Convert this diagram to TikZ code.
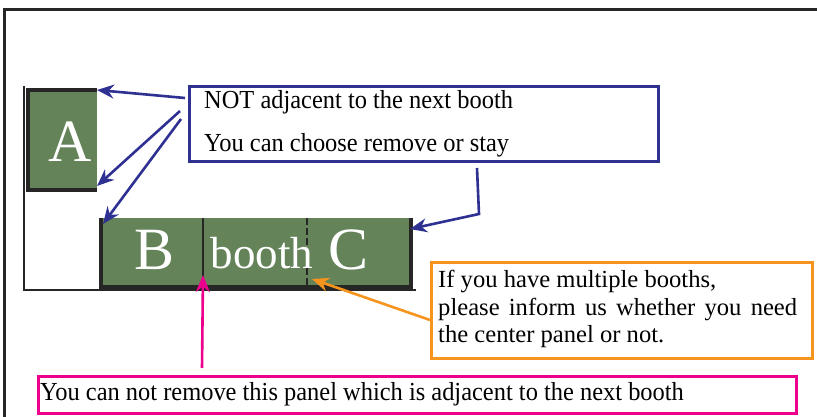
\documentclass[tikz,border=0pt]{standalone}
\usepackage{fontspec}
\setmainfont{Liberation Serif}
\usetikzlibrary{arrows.meta}
\definecolor{boothgreen}{HTML}{648359}
\definecolor{navy}{HTML}{2E3192}
\definecolor{orng}{HTML}{F7941D}
\definecolor{pnk}{HTML}{EC008C}
\tikzset{
  booth/.style={fill=boothgreen,draw=none},
  wall/.style={line width=3.2pt,draw=black!85},
  note/.style={draw,line width=2.6pt,fill=white},
  bluearrow/.style={navy,line width=2.6pt,-{Stealth[length=17pt,width=14pt]}},
  orangearrow/.style={orng,line width=2.6pt,-{Stealth[length=17pt,width=14pt]}},
  pinkarrow/.style={pnk,line width=2.6pt,-{Stealth[length=17pt,width=14pt]}},
  big/.style={text=white,font=\fontsize{60}{60}\selectfont,inner sep=0pt},
  mid/.style={text=white,font=\fontsize{45}{45}\selectfont,inner sep=0pt},
  lbl/.style={font=\fontsize{26}{30}\selectfont,inner sep=0pt,anchor=west,xscale=0.94},
  olbl/.style={font=\fontsize{24.6}{30}\selectfont,inner sep=0pt,anchor=west}
}
\begin{document}
\begin{tikzpicture}[x=1pt,y=-1pt]
\useasboundingbox (0,0) rectangle (817,417);
% outer frame
\draw[line width=3pt,black!85] (4,417) -- (4,10) -- (817,10);
% floor axes
\draw[line width=2.4pt,black!85] (24,86) -- (24,290) -- (416,290);
% booth A
\fill[booth] (28,90) rectangle (97,190);
\draw[wall] (97,90) -- (28,90) -- (28,190) -- (97,190);
\node[big] (A) at (70,142) {A};
% booth B-C
\fill[booth] (101,218) rectangle (411,287);
\draw[wall] (101,218) -- (101,287) -- (411,287) -- (411,218);
\draw[line width=2.2pt,black!85] (203,218) -- (203,287);
\draw[line width=2.2pt,black!85,dash pattern=on 7pt off 3pt] (307,218) -- (307,287);
\coordinate (Atop) at (97,90);
\coordinate (Abot) at (97,186);
\coordinate (Bcorner) at (103,224);
\coordinate (Cright) at (410,229);
\coordinate (divbot) at (312,279);
\coordinate (panelbot) at (203,275);
\node[big] (B) at (155,250) {B};
\node[mid] (booth) at (262,253) {booth};
\node[big] (C) at (349,250) {C};
% blue note
\node[note,draw=navy,minimum width=469pt,minimum height=75pt,anchor=north west,inner sep=0pt] (blue) at (188,85) {};
\node[lbl] (t1) at (204,102) {NOT adjacent to the next booth};
\node[lbl] (t2) at (204,145) {You can choose remove or stay};
\draw[bluearrow] (185,98) -- (Atop);
\draw[bluearrow] (180,111) -- (Abot);
\draw[bluearrow] (181,119) -- (Bcorner);
\coordinate (bend) at (479,214);
\draw[bluearrow] (477,168) -- (bend) -- (Cright);
% orange note
\node[note,draw=orng,minimum width=381pt,minimum height=96pt,anchor=north west,inner sep=0pt] (orange) at (430,261) {};
\node[olbl] (o1) at (438,281) {If you have multiple booths,};
\node[olbl] (o2) at (438,309) {\makebox[359pt][s]{please inform us whether you need}};
\node[olbl] (o3) at (438,337) {the center panel or not.};
\draw[orangearrow] (orange.west |- 0,320) -- (divbot);
% pink note
\node[note,draw=pnk,minimum width=758pt,minimum height=37pt,anchor=north west,inner sep=0pt] (pink) at (37,375) {};
\node[lbl] (p1) at (40,394) {You can not remove this panel which is adjacent to the next booth};
\draw[pinkarrow] (202,368) -- (panelbot);
\end{tikzpicture}
\end{document}
